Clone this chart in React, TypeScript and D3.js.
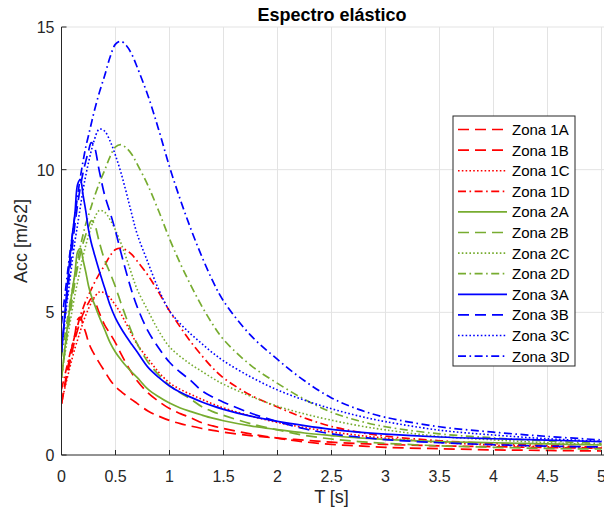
import React from "react";
import * as d3 from "d3";

const periods = [0, 0.025, 0.05, 0.075, 0.1, 0.125, 0.15, 0.175, 0.2, 0.225, 0.25, 0.275, 0.3, 0.35, 0.4, 0.45, 0.5, 0.55, 0.6, 0.65, 0.7, 0.8, 0.9, 1.0, 1.1, 1.2, 1.3, 1.4, 1.5, 1.75, 2.0, 2.25, 2.5, 2.75, 3.0, 3.5, 4.0, 4.5, 5.0];

const zona1A = [1.8, 2.35, 2.9, 3.4, 3.85, 4.25, 4.75, 4.83, 4.55, 4.28, 3.95, 3.73, 3.55, 3.23, 2.93, 2.63, 2.4, 2.23, 2.08, 1.94, 1.81, 1.54, 1.36, 1.21, 1.1, 1.01, 0.93, 0.86, 0.8, 0.68, 0.59, 0.52, 0.45, 0.4, 0.37, 0.32, 0.29, 0.26, 0.24];
const zona1B = [1.8, 2.3, 2.75, 3.2, 3.65, 4.05, 4.4, 4.7, 4.95, 5.15, 5.33, 5.48, 5.43, 4.98, 4.55, 4.25, 3.93, 3.55, 3.2, 2.88, 2.6, 2.18, 1.88, 1.63, 1.45, 1.3, 1.13, 1.02, 0.93, 0.74, 0.59, 0.46, 0.37, 0.32, 0.27, 0.22, 0.18, 0.16, 0.14];
const zona1C = [1.8, 2.25, 2.65, 3.03, 3.4, 3.75, 4.05, 4.35, 4.65, 4.9, 5.13, 5.33, 5.5, 5.71, 5.68, 5.5, 5.25, 4.95, 4.6, 4.23, 3.88, 3.38, 2.9, 2.53, 2.3, 2.12, 1.95, 1.79, 1.65, 1.37, 1.14, 0.96, 0.81, 0.69, 0.59, 0.44, 0.35, 0.29, 0.24];
const zona1D = [2.3, 2.7, 3.1, 3.5, 3.85, 4.2, 4.55, 4.88, 5.15, 5.4, 5.6, 5.8, 6.0, 6.35, 6.65, 6.98, 7.2, 7.25, 7.18, 7.03, 6.8, 6.3, 5.7, 5.05, 4.48, 3.95, 3.48, 3.05, 2.7, 2.1, 1.68, 1.3, 1.0, 0.8, 0.66, 0.5, 0.4, 0.33, 0.27];

const zona2A = [2.7, 3.53, 4.35, 5.1, 5.78, 6.38, 7.13, 7.24, 6.83, 6.41, 5.93, 5.59, 5.33, 4.84, 4.39, 3.94, 3.6, 3.34, 3.11, 2.91, 2.72, 2.31, 2.04, 1.82, 1.65, 1.52, 1.4, 1.29, 1.2, 1.02, 0.89, 0.77, 0.68, 0.6, 0.55, 0.47, 0.43, 0.39, 0.35];
const zona2B = [2.7, 3.45, 4.13, 4.8, 5.48, 6.08, 6.6, 7.05, 7.43, 7.73, 7.99, 8.21, 8.14, 7.46, 6.83, 6.38, 5.89, 5.33, 4.8, 4.31, 3.9, 3.26, 2.81, 2.44, 2.18, 1.95, 1.69, 1.52, 1.39, 1.1, 0.88, 0.69, 0.56, 0.47, 0.41, 0.32, 0.27, 0.23, 0.21];
const zona2C = [2.7, 3.38, 3.98, 4.54, 5.1, 5.63, 6.08, 6.53, 6.98, 7.35, 7.69, 7.99, 8.25, 8.57, 8.51, 8.25, 7.88, 7.43, 6.9, 6.34, 5.81, 5.06, 4.35, 3.79, 3.45, 3.17, 2.93, 2.69, 2.48, 2.06, 1.71, 1.44, 1.22, 1.03, 0.88, 0.65, 0.53, 0.43, 0.36];
const zona2D = [3.45, 4.05, 4.65, 5.25, 5.78, 6.3, 6.83, 7.31, 7.73, 8.1, 8.4, 8.7, 9.0, 9.53, 9.98, 10.46, 10.8, 10.88, 10.76, 10.54, 10.2, 9.45, 8.55, 7.58, 6.71, 5.93, 5.21, 4.58, 4.05, 3.15, 2.51, 1.95, 1.5, 1.2, 0.99, 0.74, 0.6, 0.49, 0.4];

const zona3A = [3.6, 4.7, 5.8, 6.8, 7.7, 8.5, 9.5, 9.65, 9.1, 8.55, 7.9, 7.45, 7.1, 6.45, 5.85, 5.25, 4.8, 4.45, 4.15, 3.88, 3.62, 3.08, 2.72, 2.42, 2.2, 2.02, 1.86, 1.72, 1.6, 1.36, 1.18, 1.03, 0.9, 0.8, 0.73, 0.63, 0.57, 0.52, 0.47];
const zona3B = [3.6, 4.6, 5.5, 6.4, 7.3, 8.1, 8.8, 9.4, 9.9, 10.3, 10.65, 10.95, 10.85, 9.95, 9.1, 8.5, 7.85, 7.1, 6.4, 5.75, 5.2, 4.35, 3.75, 3.25, 2.9, 2.6, 2.25, 2.03, 1.85, 1.47, 1.17, 0.92, 0.74, 0.63, 0.54, 0.43, 0.36, 0.31, 0.28];
const zona3C = [3.6, 4.5, 5.3, 6.05, 6.8, 7.5, 8.1, 8.7, 9.3, 9.8, 10.25, 10.65, 11.0, 11.42, 11.35, 11.0, 10.5, 9.9, 9.2, 8.45, 7.75, 6.75, 5.8, 5.05, 4.6, 4.23, 3.9, 3.58, 3.3, 2.74, 2.28, 1.92, 1.62, 1.37, 1.17, 0.87, 0.7, 0.57, 0.48];
const zona3D = [4.6, 5.4, 6.2, 7.0, 7.7, 8.4, 9.1, 9.75, 10.3, 10.8, 11.2, 11.6, 12.0, 12.7, 13.3, 13.95, 14.4, 14.5, 14.35, 14.05, 13.6, 12.6, 11.4, 10.1, 8.95, 7.9, 6.95, 6.1, 5.4, 4.2, 3.35, 2.6, 2.0, 1.6, 1.32, 0.99, 0.8, 0.65, 0.53];

const seriesNames = ["Zona 1A", "Zona 1B", "Zona 1C", "Zona 1D", "Zona 2A", "Zona 2B", "Zona 2C", "Zona 2D", "Zona 3A", "Zona 3B", "Zona 3C", "Zona 3D"];
const seriesValues = [zona1A, zona1B, zona1C, zona1D, zona2A, zona2B, zona2C, zona2D, zona3A, zona3B, zona3C, zona3D];

const xTicks = [0, 0.5, 1, 1.5, 2, 2.5, 3, 3.5, 4, 4.5, 5];
const xTickLabels = ["0", "0.5", "1", "1.5", "2", "2.5", "3", "3.5", "4", "4.5", "5"];
const yTicks = [0, 5, 10, 15];
const yTickLabels = ["0", "5", "10", "15"];

const title = "Espectro elástico";
const xLabel = "T [s]";
const yLabel = "Acc [m/s2]";

const RED = "#ff0000";
const GREEN = "#77ac30";
const BLUE = "#0000ff";
const zoneColors = [RED, GREEN, BLUE];
const DASHED = "11 6";
const DOTTED = "1.6 2.2";
const DASHDOT = "8 3.5 1.6 3.5";
const letterStyles = [
  { dash: DASHED, w: 1.7 },
  { dash: DASHED, w: 1.7 },
  { dash: DOTTED, w: 1.6 },
  { dash: DASHDOT, w: 1.7 },
];
const solidA = { dash: null, w: 1.7 };

function styleFor(i: number) {
  const zone = Math.floor(i / 4);
  const letter = i % 4;
  let st: any = letterStyles[letter];
  // Zones 2 and 3 use a solid line for "A"
  if (letter === 0 && zone > 0) st = solidA;
  return { color: zoneColors[zone], dash: st.dash, w: st.w };
}

const FONT = "'Liberation Sans', Arial, Helvetica, sans-serif";
const AXIS = "#262626";

export default function App() {
  const W = 604;
  const H = 511;
  const left = 61.5;
  const right = 601.5;
  const top = 27;
  const bottom = 455;

  const x = d3.scaleLinear().domain([0, 5]).range([left, right]);
  const y = d3.scaleLinear().domain([0, 15]).range([bottom, top]);

  const line = d3
    .line<[number, number]>()
    .x((d) => x(d[0]))
    .y((d) => y(d[1]))
    .curve(d3.curveCatmullRom.alpha(0.5));

  const legX = 453;
  const legY = 116;
  const legW = 122;
  const legH = 250;
  const rowH = 20.6;

  return (
    <svg
      width={W}
      height={H}
      style={{ position: "absolute", left: 0, top: 0, background: "#fff" }}
      fontFamily={FONT}
    >
      <rect x={0} y={0} width={W} height={H} fill="#fff" />
      <defs>
        <clipPath id="plotclip">
          <rect x={left} y={top - 2} width={right - left + 3} height={bottom - top + 2} />
        </clipPath>
      </defs>
      {/* grid */}
      {xTicks.slice(1).map((t) => (
        <line key={"gx" + t} x1={x(t)} x2={x(t)} y1={top} y2={bottom} stroke="#e3e3e3" strokeWidth={1} />
      ))}
      {yTicks.slice(1).map((t) => (
        <line key={"gy" + t} x1={left} x2={W} y1={y(t)} y2={y(t)} stroke="#e3e3e3" strokeWidth={1} />
      ))}
      {/* curves */}
      <g clipPath="url(#plotclip)">
        {seriesValues.map((vals, i) => {
          const st = styleFor(i);
          const pts = periods.map((p, k) => [p, vals[k]] as [number, number]);
          return (
            <path
              key={seriesNames[i]}
              d={line(pts) || ""}
              fill="none"
              stroke={st.color}
              strokeWidth={st.w}
              strokeDasharray={st.dash || undefined}
            />
          );
        })}
      </g>
      {/* axes */}
      <line x1={left} x2={left} y1={top} y2={bottom} stroke={AXIS} strokeWidth={1} />
      <line x1={left} x2={W} y1={bottom} y2={bottom} stroke={AXIS} strokeWidth={1} />
      {xTicks.map((t, i) => (
        <g key={"xt" + t}>
          <line x1={x(t)} x2={x(t)} y1={bottom} y2={bottom - 5} stroke={AXIS} strokeWidth={1} />
          <text x={x(t)} y={bottom + 27} fontSize={16} fill={AXIS} textAnchor="middle">
            {xTickLabels[i]}
          </text>
        </g>
      ))}
      {yTicks.map((t, i) => (
        <g key={"yt" + t}>
          <line x1={left} x2={left + 5} y1={y(t)} y2={y(t)} stroke={AXIS} strokeWidth={1} />
          <text x={left - 7} y={y(t) + 6} fontSize={16} fill={AXIS} textAnchor="end">
            {yTickLabels[i]}
          </text>
        </g>
      ))}
      <text x={(left + right) / 2} y={503} fontSize={18} fill={AXIS} textAnchor="middle">
        {xLabel}
      </text>
      <text
        transform={`translate(27, ${(top + bottom) / 2}) rotate(-90)`}
        fontSize={18}
        fill={AXIS}
        textAnchor="middle"
      >
        {yLabel}
      </text>
      <text x={332} y={21} fontSize={18} fontWeight="bold" fill="#000" textAnchor="middle">
        {title}
      </text>
      {/* legend */}
      <rect x={legX} y={legY} width={legW} height={legH} fill="#fff" stroke={AXIS} strokeWidth={1} />
      {seriesNames.map((name, i) => {
        const st = styleFor(i);
        const cy = legY + 13.5 + i * rowH;
        return (
          <g key={"leg" + name}>
            <line
              x1={legX + 5}
              x2={legX + 54}
              y1={cy}
              y2={cy}
              stroke={st.color}
              strokeWidth={st.w}
              strokeDasharray={st.dash || undefined}
            />
            <text x={legX + 59} y={cy + 5.5} fontSize={15} fill="#000">
              {name}
            </text>
          </g>
        );
      })}
    </svg>
  );
}
